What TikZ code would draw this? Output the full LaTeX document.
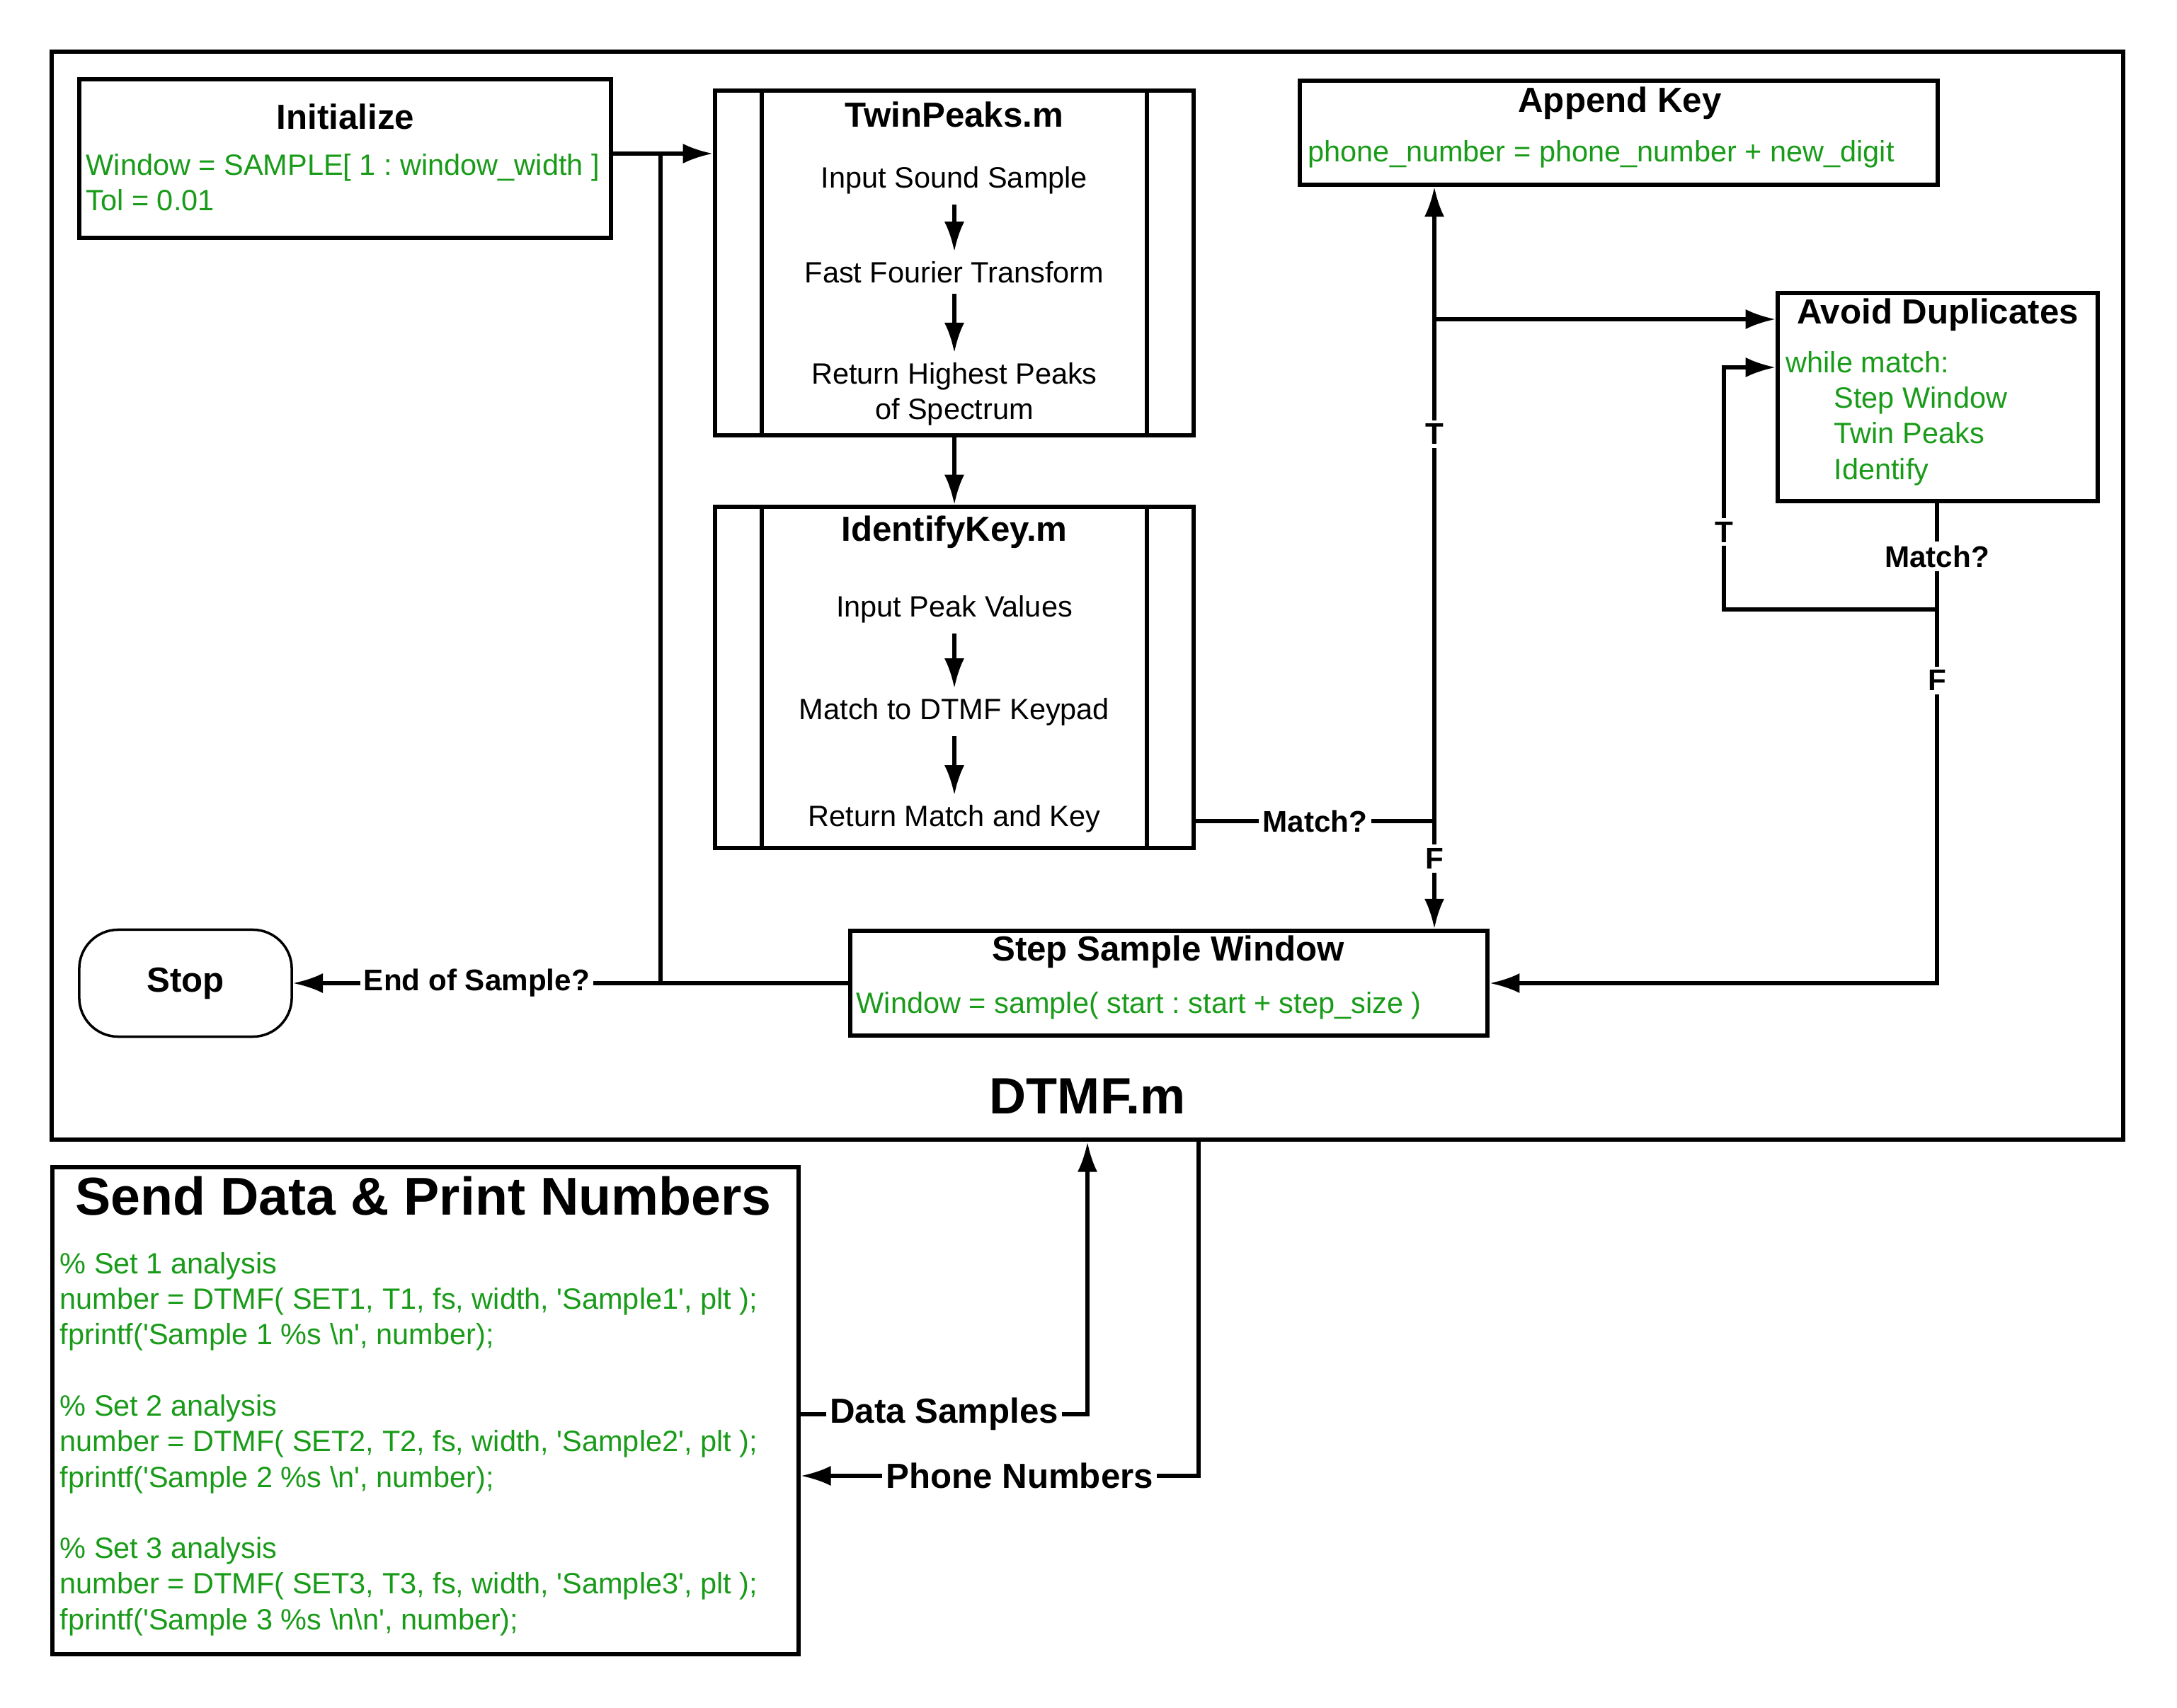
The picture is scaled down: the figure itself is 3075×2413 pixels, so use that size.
\documentclass[tikz,border=0pt]{standalone}
\usepackage{fontspec}
\setmainfont{Liberation Sans}
\usetikzlibrary{arrows.meta}
\definecolor{codegreen}{RGB}{25,155,25}

\begin{document}
\frenchspacing
\begin{tikzpicture}
  [x=0.01cm, y=-0.01cm,
   >={Latex[length=12pt,width=8pt]},
   line width=1.5pt,
   box/.style={draw, line width=1.7pt, inner sep=0pt},
   boxtitle/.style={font=\bfseries\fontsize{14}{17}\selectfont},
   txt/.style={font=\fontsize{11.8}{14.3}\selectfont, align=center},
   code/.style={font=\fontsize{11.8}{14.3}\selectfont, text=codegreen, align=left, anchor=west, inner sep=0pt},
   lbl/.style={font=\bfseries\fontsize{12}{14}\selectfont, fill=white, inner sep=1.5pt},
   biglbl/.style={font=\bfseries\fontsize{14}{17}\selectfont, fill=white, inner sep=1.5pt}]
  \useasboundingbox (0,0) rectangle (3075,2413);

  % DTMF.m frame
  \node[box, minimum width=29.24cm, minimum height=15.37cm] (dtmf) at (1536,841.5) {};
  \node[font=\bfseries\fontsize{20.5}{24}\selectfont] (dtmfT) at (1536,1549) {DTMF.m};

  \node[box, minimum width=7.51cm, minimum height=2.24cm] (init) at (487.5,224) {};
  \node[boxtitle] (initT) at (488,165) {Initialize};
  \node[code] (initC) at (119,258) {Window = SAMPLE[ 1 : window\_width ]\\Tol = 0.01};

  \node[box, minimum width=6.76cm, minimum height=4.87cm] (tp) at (1348,371.5) {};
  \draw[line width=1.7pt] ([xshift=0.69cm]tp.north west) -- ([xshift=0.69cm]tp.south west);
  \draw[line width=1.7pt] ([xshift=-0.69cm]tp.north east) -- ([xshift=-0.69cm]tp.south east);
  \node[boxtitle] (tpT) at (1348,162) {TwinPeaks.m};
  \node[txt] (tp1) at (1348,255) {Input Sound Sample};
  \node[txt] (tp2) at (1348,385) {Fast Fourier Transform};
  \node[txt] (tp3) at (1348,557) {Return Highest Peaks\\of Spectrum};

  \node[box, minimum width=6.76cm, minimum height=4.82cm] (ik) at (1348,957) {};
  \draw[line width=1.7pt] ([xshift=0.69cm]ik.north west) -- ([xshift=0.69cm]ik.south west);
  \draw[line width=1.7pt] ([xshift=-0.69cm]ik.north east) -- ([xshift=-0.69cm]ik.south east);
  \node[boxtitle] (ikT) at (1348,752) {IdentifyKey.m};
  \node[txt] (ik1) at (1348,861) {Input Peak Values};
  \node[txt] (ik2) at (1348,1006) {Match to DTMF Keypad};
  \node[txt] (ik3) at (1348,1157) {Return Match and Key};

  \node[box, minimum width=9.01cm, minimum height=1.47cm] (app) at (2286.5,187.5) {};
  \node[boxtitle] (appT) at (2288,146) {Append Key};
  \node[code] (appC) at (1845,218) {phone\_number = phone\_number + new\_digit};

  \node[box, minimum width=4.52cm, minimum height=2.94cm] (av) at (2737,561) {};
  \node[boxtitle] (avT) at (2737,445) {Avoid Duplicates};
  \node[code] (avC) at (2520,591) {while match:\\\hspace*{0.68cm}Step Window\\\hspace*{0.68cm}Twin Peaks\\\hspace*{0.68cm}Identify};

  \node[box, minimum width=9.0cm, minimum height=1.48cm] (step) at (1651,1389) {};
  \node[boxtitle] (stepT) at (1650,1345) {Step Sample Window};
  \node[code] (stepC) at (1207,1421) {Window = sample( start : start + step\_size )};

  \node[draw, line width=1pt, rounded corners=0.55cm, minimum width=3.0cm, minimum height=1.51cm, boxtitle] (stop) at (262,1389) {Stop};

  % caller script
  \node[box, minimum width=10.54cm, minimum height=6.88cm] (send) at (601,1993) {};
  \node[font=\bfseries\fontsize{21.4}{25}\selectfont] (sendT) at (598,1690) {Send Data \& Print Numbers};
  \node[code] (sendC) at (82,2040) {\% Set 1 analysis\\
    number = DTMF( SET1, T1, fs, width, \textquotesingle Sample1\textquotesingle, plt );\\
    fprintf(\textquotesingle Sample 1 \%s \textbackslash n\textquotesingle, number);\\[14.3pt]
    \% Set 2 analysis\\
    number = DTMF( SET2, T2, fs, width, \textquotesingle Sample2\textquotesingle, plt );\\
    fprintf(\textquotesingle Sample 2 \%s \textbackslash n\textquotesingle, number);\\[14.3pt]
    \% Set 3 analysis\\
    number = DTMF( SET3, T3, fs, width, \textquotesingle Sample3\textquotesingle, plt );\\
    fprintf(\textquotesingle Sample 3 \%s \textbackslash n\textbackslash n\textquotesingle, number);};

  \coordinate (jn) at (933,217);
  \coordinate (js) at (933,1389);
  \coordinate (mk) at (2026,1160);
  \coordinate (br) at (2026,451);
  \coordinate (lp) at (2736,861);
  \coordinate (lt) at (2435,861);
  \coordinate (lu) at (2435,519);
  \coordinate (fr) at (2736,1389);
  \coordinate (ds) at (1536,1998);
  \coordinate (pn) at (1693,2085);

  \foreach \from/\to in {tp1/tp2,tp2/tp3,ik1/ik2,ik2/ik3,tp/ik}
  \draw[->] (\from) -- (\to);

  \draw[->] (init.east |- jn) -- (tp.west |- jn);
  \draw (js) -- (jn);
  \draw[->] (step.west) -- (js) -- node[lbl] {End of Sample?} (stop.east);
  \draw (ik.east |- mk) -- node[lbl] {Match?} (mk);
  \draw[->] (mk) -- node[lbl, pos=0.61] {T} (app.south -| mk);
  \draw[->] (br) -- (av.west |- br);
  \draw[->] (mk) -- node[lbl, pos=0.35] {F} (step.north -| mk);
  \draw (av.south -| lp) -- node[lbl] {Match?} (lp);
  \draw[->] (lp) -- (lt) -- node[lbl, pos=0.32] {T} (lu) -- (av.west |- lu);
  \draw[->] (lp) -- node[lbl, pos=0.19] {F} (fr) -- (step.east |- fr);
  \draw[->] (send.east |- ds) -- node[biglbl] {Data Samples} (ds) -- (dtmf.south -| ds);
  \draw[->] (dtmf.south -| pn) -- (pn) -- node[biglbl, pos=0.45] {Phone Numbers} (send.east |- pn);

\end{tikzpicture}
\end{document}
